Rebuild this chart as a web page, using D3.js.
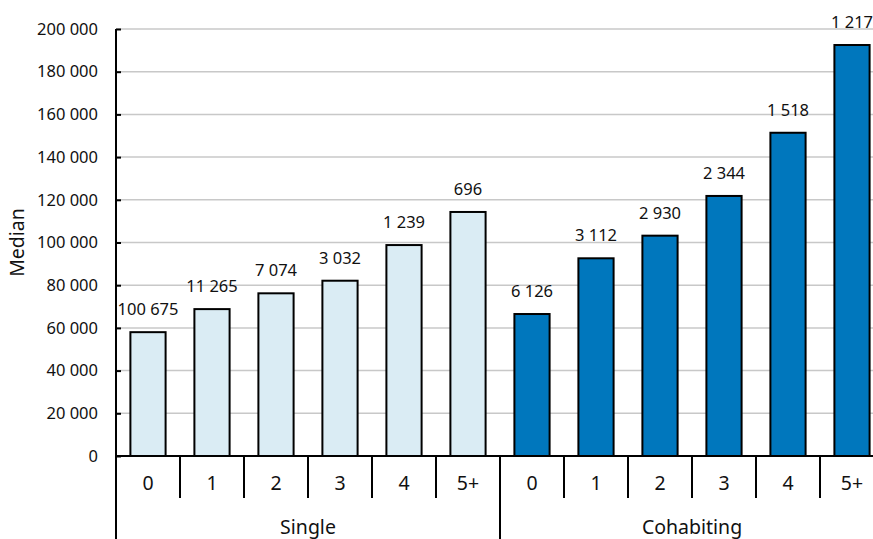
<!DOCTYPE html>
<html><head><meta charset="utf-8">
<script src="https://cdn.jsdelivr.net/npm/d3@7"></script>
<style>body{margin:0;background:#fff;} text{font-family:"Noto Sans",sans-serif;fill:#111;}</style>
</head><body><svg id="c" width="873" height="539"></svg>
<script>
const groups = ["Single", "Cohabiting"];
const categories = ["0", "1", "2", "3", "4", "5+"];
const singleValues = [58000, 68800, 76200, 82100, 98800, 114300];
const cohabValues = [66500, 92600, 103200, 121800, 151400, 192500];
const singleCounts = ["100 675", "11 265", "7 074", "3 032", "1 239", "696"];
const cohabCounts = ["6 126", "3 112", "2 930", "2 344", "1 518", "1 217"];
const yTicks = [0, 20000, 40000, 60000, 80000, 100000, 120000, 140000, 160000, 180000, 200000];
const colors = {"Single": "#daecf4", "Cohabiting": "#0077bd"};

(function () {
const rows = [];
groups.forEach((g, gi) => {
  const vals = gi === 0 ? singleValues : cohabValues;
  const cnts = gi === 0 ? singleCounts : cohabCounts;
  categories.forEach((c, ci) => rows.push({group: g, cat: c, key: g + "|" + c, value: vals[ci], count: cnts[ci]}));
});

const svg = d3.select("#c");
const mL = 116, mR = 884, mT = 29, mB = 456;
const FS = 16.5, FL = 19.5;
const x = d3.scaleBand().domain(rows.map(d => d.key)).range([mL, mR]).paddingInner(0.45).paddingOuter(0.225);
const xg = d3.scaleBand().domain(groups).range([mL, mR]);
const y = d3.scaleLinear().domain([0, 200000]).range([mB, mT]);
const fmt = v => d3.format(",")(v).replace(/,/g, " ");

svg.append("g").selectAll("line").data(yTicks.filter(t => t > 0)).join("line")
  .attr("x1", mL).attr("x2", 873).attr("y1", d => y(d)).attr("y2", d => y(d))
  .attr("stroke", "#c8c8c8").attr("stroke-width", 1.5);

const ya = svg.append("g").attr("transform", `translate(${mL},0)`)
  .call(d3.axisRight(y).tickValues(yTicks).tickSize(5).tickFormat(""));
ya.select(".domain").remove();
ya.selectAll("line").attr("stroke", "#000").attr("stroke-width", 2);
svg.append("g").selectAll("text").data(yTicks).join("text")
  .attr("x", mL - 18).attr("y", d => y(d)).attr("dy", "0.35em").attr("text-anchor", "end")
  .style("font-size", FS + "px").text(fmt);

svg.append("text").attr("transform", `translate(24,${(mT + mB) / 2 + 0}) rotate(-90)`)
  .attr("text-anchor", "middle").style("font-size", FL + "px").text("Median");

svg.append("g").selectAll("rect").data(rows).join("rect")
  .attr("x", d => x(d.key)).attr("width", x.bandwidth())
  .attr("y", d => y(d.value)).attr("height", d => y(0) - y(d.value))
  .attr("fill", d => colors[d.group]).attr("stroke", "#000").attr("stroke-width", 2);

svg.append("g").selectAll("text").data(rows).join("text")
  .attr("x", d => x(d.key) + x.bandwidth() / 2).attr("y", d => y(d.value) - 17)
  .attr("text-anchor", "middle").style("font-size", FS + "px").text(d => d.count);

svg.append("line").attr("x1", mL).attr("x2", 873).attr("y1", mB).attr("y2", mB)
  .attr("stroke", "#000").attr("stroke-width", 2);
svg.append("line").attr("x1", mL).attr("x2", mL).attr("y1", mT).attr("y2", 539)
  .attr("stroke", "#000").attr("stroke-width", 2);

const step = x.step();
svg.append("g").selectAll("line").data(rows.slice(1)).join("line")
  .attr("x1", d => x(d.key) - x.paddingInner() * step / 2).attr("x2", d => x(d.key) - x.paddingInner() * step / 2)
  .attr("y1", mB).attr("y2", d => d.cat === "0" ? 539 : 498)
  .attr("stroke", "#000").attr("stroke-width", 2);

svg.append("g").selectAll("text").data(rows).join("text")
  .attr("x", d => x(d.key) + x.bandwidth() / 2).attr("y", 483).attr("dy", "0.35em")
  .attr("text-anchor", "middle").style("font-size", FL + "px").text(d => d.cat);

svg.append("g").selectAll("text").data(groups).join("text")
  .attr("x", d => xg(d) + xg.bandwidth() / 2).attr("y", 527).attr("dy", "0.35em")
  .attr("text-anchor", "middle").style("font-size", FL + "px").text(d => d);
})();
</script></body></html>
